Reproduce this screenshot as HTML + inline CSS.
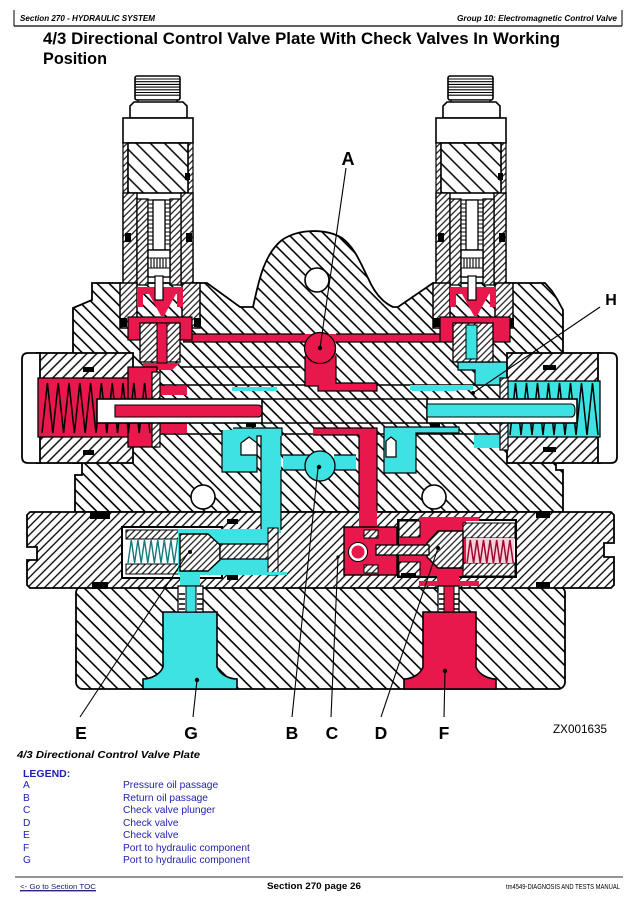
<!DOCTYPE html>
<html><head><meta charset="utf-8"><style>html,body{margin:0;padding:0;background:#fff}svg{display:block}</style></head>
<body>
<svg width="636" height="902" viewBox="0 0 636 902" xmlns="http://www.w3.org/2000/svg" xmlns:xlink="http://www.w3.org/1999/xlink" font-family="'Liberation Sans', Arial, sans-serif">
<defs>
<pattern id="hb" width="8.5" height="8.5" patternUnits="userSpaceOnUse" patternTransform="rotate(-45)"><rect width="8.5" height="8.5" fill="#fff"/><line x1="4.25" y1="0" x2="4.25" y2="8.5" stroke="#000" stroke-width="1.6"/></pattern>
<pattern id="hb2" width="9.5" height="9.5" patternUnits="userSpaceOnUse" patternTransform="rotate(-45)"><rect width="9.5" height="9.5" fill="#fff"/><line x1="4.75" y1="0" x2="4.75" y2="9.5" stroke="#000" stroke-width="1.6"/></pattern>
<pattern id="hf" width="6" height="6" patternUnits="userSpaceOnUse" patternTransform="rotate(45)"><rect width="6" height="6" fill="#fff"/><line x1="3" y1="0" x2="3" y2="6" stroke="#000" stroke-width="1.3"/></pattern>
<pattern id="hs" width="4.5" height="4.5" patternUnits="userSpaceOnUse" patternTransform="rotate(45)"><rect width="4.5" height="4.5" fill="#fff"/><line x1="2.25" y1="0" x2="2.25" y2="4.5" stroke="#000" stroke-width="1.1"/></pattern>
<pattern id="hc" width="10" height="10" patternUnits="userSpaceOnUse" patternTransform="rotate(-45)"><rect width="10" height="10" fill="#fff"/><line x1="5" y1="0" x2="5" y2="10" stroke="#000" stroke-width="1.5"/></pattern>
<pattern id="hh" width="7" height="7" patternUnits="userSpaceOnUse" patternTransform="rotate(45)"><rect width="7" height="7" fill="#fff"/><line x1="3.5" y1="0" x2="3.5" y2="7" stroke="#000" stroke-width="1.4"/></pattern>

<g id="sol">
  <rect x="135" y="76" width="45" height="24" rx="2" fill="#fff" stroke="#000" stroke-width="1.6"/>
  <g stroke="#000" stroke-width="1.1">
    <line x1="135" y1="79" x2="180" y2="79"/><line x1="135" y1="81.7" x2="180" y2="81.7"/>
    <line x1="135" y1="84.4" x2="180" y2="84.4"/><line x1="135" y1="87.1" x2="180" y2="87.1"/>
    <line x1="135" y1="89.8" x2="180" y2="89.8"/><line x1="135" y1="92.5" x2="180" y2="92.5"/>
    <line x1="135" y1="95.2" x2="180" y2="95.2"/>
  </g>
  <rect x="138" y="100" width="39" height="3" fill="#fff" stroke="#000" stroke-width="1.2"/>
  <path d="M130,118 V106 L134,102 H183 L187,106 V118 Z" fill="#fff" stroke="#000" stroke-width="1.6"/>
  <rect x="123" y="118" width="70" height="25" fill="#fff" stroke="#000" stroke-width="1.6"/>
  <rect x="123" y="143" width="5" height="142" fill="url(#hs)" stroke="#000" stroke-width="1.2"/>
  <rect x="188" y="143" width="5" height="142" fill="url(#hs)" stroke="#000" stroke-width="1.2"/>
  <rect x="128" y="143" width="60" height="50" fill="url(#hc)" stroke="#000" stroke-width="1.6"/>
  <rect x="123" y="193" width="14" height="92" fill="url(#hs)" stroke="#000" stroke-width="1.4"/>
  <rect x="181" y="193" width="12" height="92" fill="url(#hs)" stroke="#000" stroke-width="1.4"/>
  <rect x="137" y="199" width="11" height="86" fill="url(#hs)" stroke="#000" stroke-width="1.3"/>
  <rect x="170" y="199" width="11" height="86" fill="url(#hs)" stroke="#000" stroke-width="1.3"/>
  <rect x="148" y="200" width="22" height="50" fill="#fff" stroke="#000" stroke-width="1.2"/>
  <g stroke="#000" stroke-width="1">
    <line x1="148" y1="204" x2="153" y2="204"/><line x1="148" y1="208" x2="153" y2="208"/><line x1="148" y1="212" x2="153" y2="212"/><line x1="148" y1="216" x2="153" y2="216"/><line x1="148" y1="220" x2="153" y2="220"/><line x1="148" y1="224" x2="153" y2="224"/><line x1="148" y1="228" x2="153" y2="228"/><line x1="148" y1="232" x2="153" y2="232"/><line x1="148" y1="236" x2="153" y2="236"/><line x1="148" y1="240" x2="153" y2="240"/><line x1="148" y1="244" x2="153" y2="244"/>
    <line x1="165" y1="204" x2="170" y2="204"/><line x1="165" y1="208" x2="170" y2="208"/><line x1="165" y1="212" x2="170" y2="212"/><line x1="165" y1="216" x2="170" y2="216"/><line x1="165" y1="220" x2="170" y2="220"/><line x1="165" y1="224" x2="170" y2="224"/><line x1="165" y1="228" x2="170" y2="228"/><line x1="165" y1="232" x2="170" y2="232"/><line x1="165" y1="236" x2="170" y2="236"/><line x1="165" y1="240" x2="170" y2="240"/><line x1="165" y1="244" x2="170" y2="244"/>
  </g>
  <rect x="153" y="200" width="12" height="50" fill="#fff" stroke="#000" stroke-width="1.3"/>
  <rect x="148" y="250" width="22" height="27" fill="#fff" stroke="#000" stroke-width="1.4"/>
  <g stroke="#000" stroke-width="1.1">
    <line x1="151" y1="258" x2="151" y2="268"/><line x1="154" y1="258" x2="154" y2="268"/><line x1="157" y1="258" x2="157" y2="268"/><line x1="160" y1="258" x2="160" y2="268"/><line x1="163" y1="258" x2="163" y2="268"/><line x1="166" y1="258" x2="166" y2="268"/>
    <line x1="148" y1="258" x2="170" y2="258"/><line x1="148" y1="268" x2="170" y2="268"/>
  </g>
  <rect x="120" y="283" width="17" height="45" fill="url(#hs)" stroke="#000" stroke-width="1.5"/>
  <rect x="182" y="283" width="18" height="45" fill="url(#hs)" stroke="#000" stroke-width="1.5"/>
  <rect x="125" y="233" width="6" height="9" fill="#000"/>
  <rect x="186" y="233" width="6" height="9" fill="#000"/>
  <rect x="185" y="173" width="5" height="7" fill="#000"/>
  <rect x="120" y="318" width="7" height="9" fill="#000"/>
  <rect x="194" y="318" width="7" height="9" fill="#000"/>
</g>
</defs>

<!-- HEADER -->
<line x1="14" y1="10" x2="14" y2="26" stroke="#000" stroke-width="1"/>
<line x1="622" y1="10" x2="622" y2="26" stroke="#000" stroke-width="1"/>
<line x1="14" y1="26" x2="622" y2="26" stroke="#000" stroke-width="1.3"/>
<text x="20" y="21" font-size="8" font-weight="bold" font-style="italic" textLength="135" lengthAdjust="spacingAndGlyphs">Section 270 - HYDRAULIC SYSTEM</text>
<text x="457" y="21" font-size="8" font-weight="bold" font-style="italic" textLength="160" lengthAdjust="spacingAndGlyphs">Group 10: Electromagnetic Control Valve</text>
<text x="43" y="44" font-size="16.5" font-weight="bold" textLength="517" lengthAdjust="spacingAndGlyphs">4/3 Directional Control Valve Plate With Check Valves In Working</text>
<text x="43" y="64" font-size="16.5" font-weight="bold" textLength="64" lengthAdjust="spacingAndGlyphs">Position</text>

<!-- BOTTOM BLOCK -->
<rect x="76" y="586" width="489" height="103" rx="7" fill="url(#hb2)" stroke="#000" stroke-width="1.8"/>

<!-- MAIN BODY -->
<path d="M92,283 L207,283 L240,307 L253,307 C258,285 263,255 282,240 C298,229 325,228 342,238 C355,248 360,262 368,278 C374,292 382,302 393,307 L398,307 L433,283 L545,283 L552,291 L557,299 L563,310 L563,463 L556,463 L556,470 L563,470 L563,512 L75,512 L75,475 L82,475 L82,463 L73,463 L73,308 L92,300 Z" fill="url(#hb)" stroke="#000" stroke-width="1.8"/>
<circle cx="317" cy="280" r="12" fill="#fff" stroke="#000" stroke-width="1.6"/>
<circle cx="203" cy="497" r="12" fill="#fff" stroke="#000" stroke-width="1.6"/>
<circle cx="434" cy="497" r="12" fill="#fff" stroke="#000" stroke-width="1.6"/>

<!-- spool bore lines -->
<g stroke="#000" stroke-width="1.5">
  <line x1="157" y1="385" x2="507" y2="385"/>
  <line x1="157" y1="434" x2="507" y2="434"/>
  <line x1="262" y1="399" x2="427" y2="399"/>
  <line x1="262" y1="423" x2="427" y2="423"/>
  <line x1="180" y1="367" x2="300" y2="367"/>
</g>

<!-- RED passages in body -->
<g fill="#e8174c">
  <rect x="183" y="334" width="264" height="8"/>
  <rect x="305" y="348" width="31" height="38"/>
  <rect x="318" y="383" width="59" height="8"/>
  <rect x="313" y="428" width="64" height="7"/>
  <rect x="359" y="428" width="18" height="86"/>
  <rect x="160" y="386" width="27" height="9"/>
  <rect x="160" y="423" width="27" height="10"/>
  <polygon points="143,363 180,363 172,370 143,370"/>
</g>
<g stroke="#000" stroke-width="1.2" fill="none">
  <path d="M305,356 V386 H318 V391 H377 V383 H336 V356"/>
  <path d="M313,428 H377 V512 M359,435 V512 M313,435 H359"/>
  <path d="M183,334 H305 M336,334 H447 M183,342 H305 M336,342 H440"/>
</g>
<circle cx="320" cy="348" r="15.5" fill="#e8174c" stroke="#000" stroke-width="1.3"/>

<!-- CYAN passages in body -->
<g fill="#3fe2e2">
  <rect x="232" y="387" width="45" height="4"/>
  <rect x="412" y="387" width="45" height="4"/>
  <rect x="222" y="430" width="35" height="42"/>
  <rect x="233" y="428" width="49" height="8"/>
  <rect x="261" y="428" width="20" height="86"/>
  <rect x="283" y="455" width="27" height="15"/>
  <rect x="334" y="455" width="22" height="15"/>
  <rect x="384" y="433" width="32" height="40"/>
  <rect x="384" y="427" width="75" height="6"/>
  <rect x="474" y="435" width="33" height="13"/>
  <polygon points="458,362 507,362 507,385 475,385 475,370 458,370"/>
  <rect x="410" y="385" width="63" height="5"/>
</g>
<g stroke="#000" stroke-width="1.2" fill="none">
  <path d="M222,430 V472 H257 V436 H261 V512 M281,436 V455 H310 M281,470 H310 M281,470 V512 M233,428 H282 V436"/>
  <path d="M334,455 H356 M334,470 H356 M384,427 H459 V433 H416 V473 H384 Z"/>
  <path d="M458,362 H507 V385 H475 V370 H458 Z"/>
</g>
<polygon points="241,455 241,443 249,437 257,443 257,455" fill="#fff" stroke="#000" stroke-width="1.2"/>
<polygon points="386,457 386,441 391,437 396,441 396,457" fill="#fff" stroke="#000" stroke-width="1.2"/>
<circle cx="320" cy="466" r="15" fill="#3fe2e2" stroke="#000" stroke-width="1.3"/>
<rect x="246" y="422" width="10" height="5" fill="#000"/>
<rect x="430" y="422" width="10" height="5" fill="#000"/>

<!-- SPRING HOUSINGS -->
<rect x="37" y="353" width="96" height="110" fill="url(#hh)" stroke="#000" stroke-width="1.8"/>
<path d="M40,353 H28 Q22,353 22,359 V457 Q22,463 28,463 H40 Z" fill="#fff" stroke="#000" stroke-width="1.8"/>
<rect x="38" y="378" width="95" height="59" fill="#e8174c" stroke="#000" stroke-width="1.3"/>
<rect x="128" y="367" width="29" height="80" fill="#e8174c" stroke="#000" stroke-width="1.3"/>
<rect x="152" y="372" width="8" height="75" fill="url(#hs)" stroke="#000" stroke-width="1.2"/>
<rect x="83" y="367" width="11" height="5" fill="#000"/>
<rect x="83" y="450" width="11" height="5" fill="#000"/>
<path d="M42,433 L47.4,383 L52.8,433 L58.2,383 L63.6,433 L69,383 L74.4,433 L79.8,383 L85.2,433 L90.6,383 L96,433 L101.4,383 L106.8,433 L112.2,383 L117.6,433 L123,383 L128.4,433 L133.8,383 L139.2,433 L144.6,383 L150,433" fill="none" stroke="#000" stroke-width="1.5"/>
<rect x="97" y="399" width="165" height="24" fill="#fff" stroke="#000" stroke-width="1.6"/>
<path d="M115,405 H258 Q262,405 262,411 Q262,417 258,417 H115 Z" fill="#e8174c" stroke="#000" stroke-width="1.1"/>

<rect x="507" y="353" width="93" height="110" fill="url(#hh)" stroke="#000" stroke-width="1.8"/>
<path d="M598,353 H611 Q617,353 617,359 V457 Q617,463 611,463 H598 Z" fill="#fff" stroke="#000" stroke-width="1.8"/>
<rect x="507" y="381" width="93" height="56" fill="#3fe2e2" stroke="#000" stroke-width="1.3"/>
<rect x="500" y="378" width="8" height="72" fill="url(#hs)" stroke="#000" stroke-width="1.2"/>
<rect x="543" y="365" width="13" height="5" fill="#000"/>
<rect x="543" y="447" width="13" height="5" fill="#000"/>
<path d="M510,435 L515.5,383 L521,435 L526.5,383 L532,435 L537.5,383 L543,435 L548.5,383 L554,435 L559.5,383 L565,435 L570.5,383 L576,435 L581.5,383 L587,435 L592.5,383 L598,435" fill="none" stroke="#000" stroke-width="1.5"/>
<rect x="427" y="399" width="150" height="24" fill="#fff" stroke="#000" stroke-width="1.6"/>
<path d="M427,404 H571 Q575,404 575,410.5 Q575,417 571,417 H427 Z" fill="#3fe2e2" stroke="#000" stroke-width="1.1"/>

<!-- SOLENOIDS -->
<use xlink:href="#sol" href="#sol"/>
<use xlink:href="#sol" href="#sol" transform="translate(313,0)"/>

<!-- left solenoid colored -->
<rect x="128" y="317" width="64" height="23" fill="#e8174c" stroke="#000" stroke-width="1.2"/>
<rect x="140" y="323" width="40" height="39" fill="url(#hs)" stroke="#000" stroke-width="1.3"/>
<rect x="157" y="323" width="10" height="40" fill="#e8174c" stroke="#000" stroke-width="1"/>
<rect x="137" y="287" width="46" height="7" fill="#e8174c"/>
<rect x="137" y="287" width="6" height="20" fill="#e8174c"/>
<rect x="177" y="287" width="6" height="20" fill="#e8174c"/>
<path d="M149,294 L176,294 L164,316 L161,316 Z" fill="#e8174c"/>
<rect x="155" y="276" width="8" height="24" fill="#fff" stroke="#000" stroke-width="1.2"/>

<!-- right solenoid colored -->
<rect x="440" y="317" width="70" height="25" fill="#e8174c" stroke="#000" stroke-width="1.2"/>
<rect x="453" y="323" width="40" height="39" fill="url(#hs)" stroke="#000" stroke-width="1.3"/>
<rect x="466" y="325" width="11" height="34" fill="#3fe2e2" stroke="#000" stroke-width="1"/>
<rect x="450" y="287" width="46" height="7" fill="#e8174c"/>
<rect x="450" y="287" width="6" height="20" fill="#e8174c"/>
<rect x="490" y="287" width="6" height="20" fill="#e8174c"/>
<path d="M462,294 L489,294 L477,316 L474,316 Z" fill="#e8174c"/>
<rect x="468" y="276" width="8" height="24" fill="#fff" stroke="#000" stroke-width="1.2"/>

<!-- CHECK VALVE PLATE -->
<path d="M30,512 L611,512 L614,515 L614,543 L604,543 L604,557 L614,557 L614,585 L611,588 L30,588 L27,585 L27,560 L37,560 L37,547 L27,547 L27,515 Z" fill="url(#hf)" stroke="#000" stroke-width="1.8"/>
<rect x="90" y="512" width="20" height="7" fill="#000"/>
<rect x="92" y="582" width="16" height="7" fill="#000"/>
<rect x="536" y="512" width="14" height="6" fill="#000"/>
<rect x="536" y="582" width="14" height="6" fill="#000"/>

<!-- check valve E -->
<rect x="261" y="511" width="20" height="22" fill="#3fe2e2"/>
<line x1="261" y1="511" x2="261" y2="530" stroke="#000" stroke-width="1.2"/>
<line x1="281" y1="511" x2="281" y2="530" stroke="#000" stroke-width="1.2"/>
<rect x="122" y="527" width="100" height="51" fill="#fff" stroke="#000" stroke-width="2"/>
<rect x="126" y="530" width="54" height="9" fill="url(#hs)" stroke="#000" stroke-width="1"/>
<rect x="126" y="564" width="54" height="10" fill="url(#hs)" stroke="#000" stroke-width="1"/>
<path d="M128,563 L131.3,540 L134.6,563 L137.9,540 L141.2,563 L144.5,540 L147.8,563 L151.1,540 L154.4,563 L157.7,540 L161,563 L164.3,540 L167.6,563 L170.9,540 L174.2,563 L177.5,540" fill="none" stroke="#167a7a" stroke-width="1.4"/>
<rect x="178" y="529" width="90" height="46" fill="#3fe2e2"/>
<path d="M180,534 L208,534 L220,545 L220,560 L208,571 L180,571 Z" fill="url(#hs)" stroke="#000" stroke-width="1.4"/>
<rect x="220" y="544" width="50" height="15" fill="url(#hs)" stroke="#000" stroke-width="1.3"/>
<rect x="268" y="528" width="10" height="47" fill="url(#hf)" stroke="#000" stroke-width="1"/>
<rect x="227" y="519" width="11" height="5" fill="#000"/>
<rect x="227" y="575" width="11" height="5" fill="#000"/>
<rect x="180" y="575" width="20" height="17" fill="#3fe2e2"/>
<rect x="240" y="572" width="47" height="3" fill="#3fe2e2"/>

<!-- check valve D + plunger C -->
<rect x="359" y="511" width="18" height="20" fill="#e8174c"/>
<rect x="344" y="527" width="53" height="48" fill="#e8174c" stroke="#000" stroke-width="1.4"/>
<rect x="364" y="530" width="14" height="8" fill="url(#hs)" stroke="#000" stroke-width="1"/>
<rect x="364" y="565" width="14" height="8" fill="url(#hs)" stroke="#000" stroke-width="1"/>
<circle cx="358" cy="552" r="8" fill="#e8174c" stroke="#fff" stroke-width="3"/>
<circle cx="358" cy="552" r="9.5" fill="none" stroke="#000" stroke-width="1"/>
<rect x="398" y="520" width="118" height="57" fill="#fff" stroke="#000" stroke-width="2"/>
<rect x="399" y="521" width="67" height="55" fill="#e8174c"/>
<rect x="399" y="521" width="21" height="16" fill="url(#hf)" stroke="#000" stroke-width="1"/>
<rect x="399" y="562" width="21" height="14" fill="url(#hf)" stroke="#000" stroke-width="1"/>
<rect x="463" y="523" width="52" height="15" fill="url(#hs)" stroke="#000" stroke-width="1"/>
<rect x="463" y="563" width="52" height="13" fill="url(#hs)" stroke="#000" stroke-width="1"/>
<rect x="466" y="538" width="48" height="25" fill="#f7d0da"/>
<path d="M467,563 L470.3,540 L473.6,563 L476.9,540 L480.2,563 L483.5,540 L486.8,563 L490.1,540 L493.4,563 L496.7,540 L500,563 L503.3,540 L506.6,563 L509.9,540 L513.2,563" fill="none" stroke="#9e0a2e" stroke-width="1.5"/>
<path d="M463,531 L438,531 L427,543 L427,557 L438,568 L463,568 Z" fill="url(#hs)" stroke="#000" stroke-width="1.4"/>
<rect x="376" y="545" width="53" height="10" fill="url(#hs)" stroke="#000" stroke-width="1.3"/>
<rect x="419" y="517" width="60" height="4" fill="#e8174c"/>
<rect x="419" y="581" width="60" height="5" fill="#e8174c"/>
<rect x="437" y="576" width="22" height="16" fill="#e8174c"/>
<rect x="401" y="573" width="15" height="5" fill="#000"/>

<!-- PORTS -->
<path d="M143,689 L143,679 C150,679 160,675 163,667 L163,612 L217,612 L217,667 C220,675 230,679 237,679 L237,689 Z" fill="#3fe2e2" stroke="#000" stroke-width="1.6"/>
<rect x="178" y="586" width="25" height="26" fill="#fff" stroke="#000" stroke-width="1.3"/>
<rect x="186" y="586" width="10" height="26" fill="#3fe2e2" stroke="#000" stroke-width="1"/>
<g stroke="#000" stroke-width="1.5">
  <line x1="179" y1="594" x2="185" y2="594"/><line x1="179" y1="599" x2="185" y2="599"/><line x1="179" y1="604" x2="185" y2="604"/><line x1="179" y1="609" x2="185" y2="609"/>
  <line x1="197" y1="594" x2="203" y2="594"/><line x1="197" y1="599" x2="203" y2="599"/><line x1="197" y1="604" x2="203" y2="604"/><line x1="197" y1="609" x2="203" y2="609"/>
</g>
<path d="M404,689 L404,679 C411,679 420,675 423,667 L423,612 L476,612 L476,667 C479,675 489,679 496,679 L496,689 Z" fill="#e8174c" stroke="#000" stroke-width="1.6"/>
<rect x="438" y="586" width="21" height="26" fill="#fff" stroke="#000" stroke-width="1.3"/>
<rect x="444" y="586" width="10" height="26" fill="#e8174c" stroke="#000" stroke-width="1"/>
<g stroke="#000" stroke-width="1.5">
  <line x1="439" y1="594" x2="444" y2="594"/><line x1="439" y1="599" x2="444" y2="599"/><line x1="439" y1="604" x2="444" y2="604"/><line x1="439" y1="609" x2="444" y2="609"/>
  <line x1="454" y1="594" x2="459" y2="594"/><line x1="454" y1="599" x2="459" y2="599"/><line x1="454" y1="604" x2="459" y2="604"/><line x1="454" y1="609" x2="459" y2="609"/>
</g>

<!-- LEADERS -->
<g stroke="#000" stroke-width="1.1" fill="none">
  <line x1="346" y1="168" x2="320" y2="348"/>
  <line x1="600" y1="307" x2="473" y2="393"/>
  <line x1="80" y1="717" x2="188" y2="553"/>
  <line x1="193" y1="717" x2="197" y2="680"/>
  <line x1="292" y1="717" x2="318" y2="468"/>
  <line x1="331" y1="717" x2="338" y2="557"/>
  <line x1="381" y1="717" x2="438" y2="548"/>
  <line x1="444" y1="717" x2="445" y2="671"/>
</g>
<g fill="#000">
  <circle cx="320" cy="348" r="2.2"/>
  <circle cx="473" cy="393" r="2"/>
  <circle cx="190" cy="552" r="2"/>
  <circle cx="197" cy="680" r="2.2"/>
  <circle cx="319" cy="467" r="2.2"/>
  <circle cx="338" cy="557" r="1.6"/>
  <circle cx="438" cy="548" r="2"/>
  <circle cx="445" cy="671" r="2.2"/>
</g>

<!-- LABELS -->
<g font-weight="bold" text-anchor="middle" fill="#000">
  <text x="348" y="165" font-size="18">A</text>
  <text x="611" y="305" font-size="16">H</text>
  <text x="81" y="739" font-size="17.5">E</text>
  <text x="191" y="739" font-size="17.5">G</text>
  <text x="292" y="739" font-size="17.5">B</text>
  <text x="332" y="739" font-size="17.5">C</text>
  <text x="381" y="739" font-size="17.5">D</text>
  <text x="444" y="739" font-size="17.5">F</text>
</g>
<text x="553" y="733" font-size="12" textLength="54" lengthAdjust="spacingAndGlyphs">ZX001635</text>

<!-- LEGEND -->
<text x="17" y="758" font-size="10.5" font-weight="bold" font-style="italic" textLength="183" lengthAdjust="spacingAndGlyphs">4/3 Directional Control Valve Plate</text>
<text x="23" y="777" font-size="10.5" font-weight="bold" fill="#1f1fb0">LEGEND:</text>
<g font-size="10.2" fill="#1f1fb0">
  <text x="23" y="788">A</text><text x="123" y="788">Pressure oil passage</text>
  <text x="23" y="801">B</text><text x="123" y="801">Return oil passage</text>
  <text x="23" y="813">C</text><text x="123" y="813">Check valve plunger</text>
  <text x="23" y="826">D</text><text x="123" y="826">Check valve</text>
  <text x="23" y="838">E</text><text x="123" y="838">Check valve</text>
  <text x="23" y="851">F</text><text x="123" y="851">Port to hydraulic component</text>
  <text x="23" y="863">G</text><text x="123" y="863">Port to hydraulic component</text>
</g>

<!-- FOOTER -->
<line x1="15" y1="877" x2="623" y2="877" stroke="#555" stroke-width="1.3"/>
<text x="20" y="889" font-size="7.5" fill="#1a1a70" text-decoration="underline" textLength="76" lengthAdjust="spacingAndGlyphs">&lt;- Go to Section TOC</text>
<line x1="20" y1="891" x2="96" y2="891" stroke="#1a1a70" stroke-width="0.7"/>
<text x="314" y="889" font-size="9.5" font-weight="bold" text-anchor="middle" textLength="94" lengthAdjust="spacingAndGlyphs">Section 270 page 26</text>
<text x="506" y="889" font-size="7.5" textLength="114" lengthAdjust="spacingAndGlyphs">tm4549-DIAGNOSIS AND TESTS MANUAL</text>
</svg>
</body></html>
